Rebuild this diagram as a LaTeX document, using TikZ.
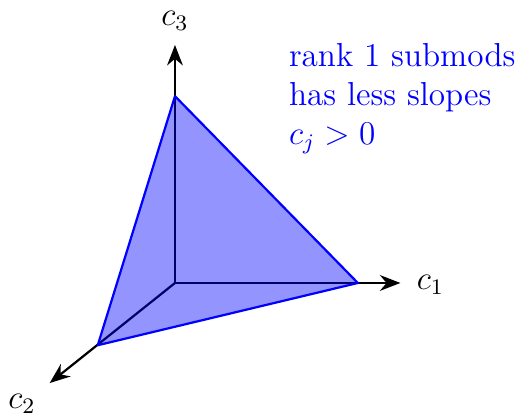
\documentclass[tikz,border=0pt]{standalone}
\usetikzlibrary{arrows.meta}

\begin{document}
\begin{tikzpicture}[
  >={Stealth[length=2.6mm, width=2mm]},
  axis/.style={->, thick, black},
  lbl/.style={font=\large},
  face/.style={draw=blue, thick, fill=blue, fill opacity=0.42, line join=round},
  note/.style={blue, font=\large, align=left, inner sep=0pt},
]
\useasboundingbox (-2.22,-1.71) rectangle (4.39,3.59);

% axes
\coordinate (O) at (0,0);
\coordinate (e1) at (2.86,0);
\coordinate (e2) at (-1.59,-1.27);
\coordinate (e3) at (0,3.02);
\draw[axis] (O) -- (e1);
\draw[axis] (O) -- (e2);
\draw[axis] (O) -- (e3);
\node[lbl] (l1) at (3.24,-0.02) {$c_1$};
\node[lbl] (l2) at (-1.94,-1.53) {$c_2$};
\node[lbl] (l3) at (0,3.32) {$c_3$};

% simplex
\coordinate (v1) at (2.32,0);
\coordinate (v2) at (-0.98,-0.79);
\coordinate (v3) at (0,2.37);
\draw[face] (v1) -- (v3) -- (v2) -- cycle;

% remark
\node[note, anchor=north west] (txt) at (1.44,3.04)
  {rank 1 submods\\has less slopes\\$c_j>0$};
\end{tikzpicture}
\end{document}
